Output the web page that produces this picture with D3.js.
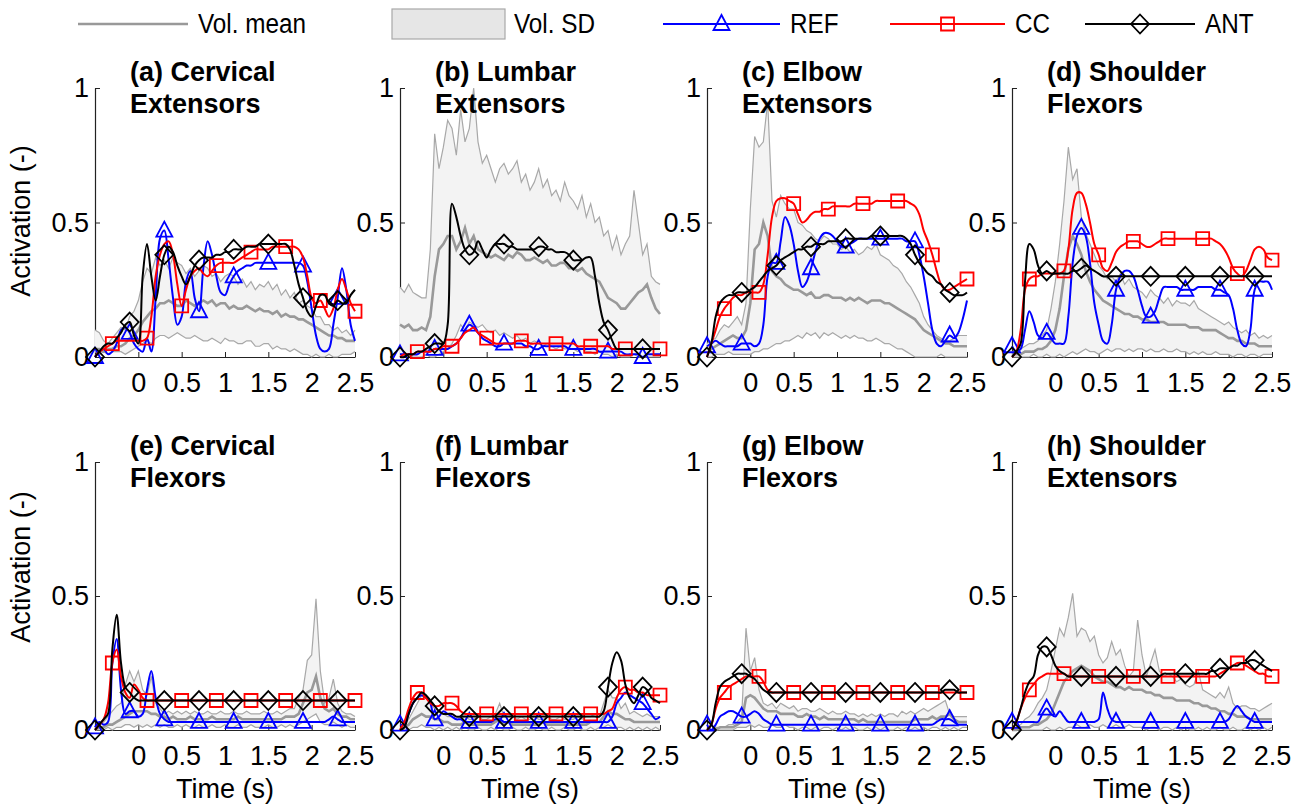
<!DOCTYPE html>
<html>
<head>
<meta charset="utf-8">
<script src="https://cdn.jsdelivr.net/npm/d3@7"></script>
<style>
  body { margin: 0; background: #fff; }
  svg text { font-family: Arial, "Liberation Sans", sans-serif; }
</style>
</head>
<body>
<svg id="chart" width="1301" height="805"></svg>
<script>
// sampling grid shared by every trace: -0.5 s .. 2.5 s, every 0.05 s (61 samples)
const time = d3.range(61).map(i => +(-0.5 + i * 0.05).toFixed(2));
const xTicks = [0, 0.5, 1, 1.5, 2, 2.5];
const yTicks = [0, 0.5, 1];

// (a) Cervical Extensors
const aUpper = [0.10,0.09,0.06,0.05,0.07,0.09,0.11,0.10,0.15,0.17, 0.21,0.28,0.33,0.31,0.37,0.34,0.36,0.33,0.37,0.35, 0.34,0.31,0.33,0.30,0.32,0.34,0.33,0.30,0.31,0.28, 0.30,0.31,0.30,0.27,0.29,0.26,0.28,0.25,0.27,0.26, 0.28,0.25,0.27,0.23,0.25,0.22,0.24,0.20,0.21,0.19, 0.18,0.15,0.15,0.12,0.12,0.10,0.11,0.09,0.10,0.08, 0.10];
const aMean  = [0.03,0.03,0.02,0.03,0.03,0.04,0.04,0.05,0.07,0.08, 0.10,0.13,0.15,0.17,0.18,0.20,0.20,0.21,0.20,0.19, 0.19,0.21,0.20,0.19,0.20,0.21,0.20,0.21,0.19,0.20, 0.20,0.18,0.19,0.18,0.18,0.19,0.18,0.17,0.18,0.17, 0.17,0.16,0.17,0.15,0.16,0.15,0.15,0.14,0.14,0.13, 0.12,0.11,0.10,0.09,0.08,0.08,0.07,0.07,0.06,0.06, 0.06];
const aLower = [0.02,0.01,0.02,0.01,0.02,0.02,0.02,0.01,0.02,0.03, 0.04,0.05,0.06,0.05,0.07,0.08,0.08,0.07,0.08,0.09, 0.08,0.07,0.07,0.08,0.07,0.06,0.06,0.07,0.06,0.05, 0.07,0.06,0.06,0.05,0.05,0.06,0.06,0.04,0.04,0.05, 0.05,0.03,0.04,0.03,0.03,0.02,0.03,0.02,0.01,0.01, 0.00,0.01,0.00,0.00,0.01,0.00,0.00,0.01,0.01,0.01, 0.02];
const aRef   = [0.00,0.02,0.03,0.01,0.02,0.05,0.10,0.11,0.09,0.05, 0.03,0.02,0.07,0.02,0.22,0.44,0.47,0.36,0.22,0.12, 0.15,0.28,0.32,0.22,0.17,0.33,0.43,0.38,0.30,0.24, 0.23,0.27,0.30,0.32,0.33,0.34,0.34,0.35,0.35,0.35, 0.35,0.35,0.35,0.35,0.35,0.35,0.35,0.35,0.34,0.28, 0.18,0.08,0.03,0.02,0.03,0.12,0.22,0.33,0.25,0.12, 0.06];
const aCc    = [0.00,0.02,0.03,0.04,0.05,0.06,0.06,0.06,0.06,0.06, 0.06,0.06,0.07,0.15,0.30,0.38,0.42,0.43,0.38,0.27, 0.19,0.25,0.30,0.32,0.33,0.31,0.30,0.32,0.34,0.35, 0.35,0.35,0.35,0.36,0.37,0.38,0.39,0.40,0.40,0.40, 0.40,0.41,0.41,0.41,0.41,0.41,0.41,0.40,0.37,0.30, 0.22,0.20,0.21,0.18,0.15,0.18,0.25,0.29,0.25,0.20, 0.17];
const aAnt   = [0.00,0.02,0.04,0.05,0.05,0.07,0.09,0.12,0.13,0.08, 0.05,0.30,0.42,0.30,0.21,0.30,0.38,0.41,0.39,0.34, 0.30,0.27,0.30,0.34,0.36,0.37,0.37,0.37,0.38,0.38, 0.39,0.39,0.40,0.40,0.40,0.41,0.41,0.41,0.42,0.42, 0.42,0.42,0.42,0.42,0.42,0.40,0.34,0.27,0.22,0.17, 0.15,0.19,0.23,0.23,0.20,0.19,0.21,0.20,0.20,0.23, 0.25];

// (b) Lumbar Extensors
const bUpper = [0.26,0.24,0.27,0.24,0.23,0.22,0.22,0.40,0.83,0.70, 0.78,0.88,0.85,0.75,0.92,0.80,0.85,1.00,0.80,0.72, 0.75,0.70,0.65,0.70,0.72,0.68,0.70,0.73,0.65,0.68, 0.62,0.65,0.70,0.63,0.66,0.60,0.62,0.58,0.65,0.60, 0.58,0.55,0.60,0.52,0.57,0.50,0.52,0.45,0.47,0.40, 0.45,0.38,0.42,0.45,0.62,0.50,0.38,0.42,0.30,0.28, 0.27];
const bMean  = [0.12,0.11,0.12,0.10,0.10,0.11,0.10,0.15,0.30,0.40, 0.42,0.45,0.45,0.40,0.43,0.48,0.42,0.45,0.40,0.39, 0.38,0.37,0.38,0.37,0.36,0.38,0.37,0.39,0.38,0.36, 0.36,0.37,0.36,0.35,0.36,0.34,0.34,0.35,0.35,0.33, 0.33,0.32,0.33,0.31,0.30,0.29,0.28,0.25,0.22,0.21, 0.20,0.18,0.18,0.20,0.22,0.24,0.25,0.27,0.22,0.18, 0.16];
const bLower = [0.00,0.00,0.01,0.00,0.00,0.00,0.01,0.00,0.00,0.01, 0.02,0.03,0.05,0.08,0.12,0.10,0.13,0.12,0.11,0.12, 0.10,0.09,0.10,0.08,0.09,0.08,0.07,0.08,0.06,0.07, 0.05,0.06,0.05,0.04,0.05,0.04,0.03,0.04,0.03,0.03, 0.03,0.02,0.03,0.02,0.02,0.01,0.02,0.01,0.01,0.00, 0.01,0.00,0.00,0.00,0.01,0.00,0.00,0.00,0.00,0.00, 0.00];
const bRef   = [0.01,0.01,0.01,0.01,0.01,0.02,0.02,0.02,0.03,0.03, 0.03,0.03,0.04,0.05,0.07,0.10,0.12,0.11,0.09,0.07, 0.06,0.05,0.04,0.04,0.05,0.05,0.05,0.05,0.05,0.04, 0.04,0.03,0.03,0.04,0.04,0.04,0.04,0.04,0.04,0.03, 0.03,0.03,0.03,0.03,0.03,0.03,0.02,0.02,0.02,0.02, 0.02,0.02,0.01,0.01,0.01,0.01,0.00,0.01,0.01,0.01, 0.01];
const bCc    = [0.00,0.01,0.01,0.01,0.02,0.02,0.02,0.02,0.03,0.03, 0.04,0.04,0.04,0.05,0.07,0.09,0.10,0.11,0.09,0.08, 0.07,0.06,0.05,0.05,0.05,0.05,0.05,0.06,0.06,0.06, 0.05,0.05,0.05,0.05,0.05,0.05,0.05,0.05,0.05,0.05, 0.05,0.04,0.04,0.04,0.04,0.04,0.04,0.04,0.04,0.03, 0.03,0.03,0.03,0.03,0.03,0.03,0.03,0.03,0.03,0.03, 0.03];
const bAnt   = [0.00,0.00,0.01,0.01,0.02,0.02,0.03,0.04,0.05,0.05, 0.05,0.12,0.57,0.52,0.45,0.40,0.38,0.39,0.43,0.40, 0.37,0.40,0.42,0.42,0.42,0.41,0.41,0.40,0.40,0.40, 0.40,0.40,0.41,0.41,0.40,0.40,0.39,0.39,0.39,0.38, 0.36,0.36,0.36,0.37,0.37,0.30,0.20,0.13,0.10,0.06, 0.03,0.03,0.03,0.03,0.03,0.03,0.03,0.03,0.03,0.03, 0.03];

// (c) Elbow Extensors
const cUpper = [0.05,0.06,0.07,0.10,0.12,0.11,0.13,0.15,0.12,0.20, 0.55,0.82,0.78,0.80,0.95,0.58,0.52,0.60,0.57,0.55, 0.55,0.50,0.49,0.47,0.46,0.44,0.43,0.45,0.44,0.42, 0.42,0.40,0.41,0.39,0.40,0.38,0.39,0.41,0.40,0.42, 0.38,0.37,0.36,0.34,0.33,0.31,0.28,0.26,0.23,0.20, 0.15,0.12,0.10,0.08,0.07,0.06,0.06,0.07,0.08,0.08, 0.08];
const cMean  = [0.03,0.03,0.04,0.05,0.06,0.07,0.08,0.07,0.07,0.10, 0.20,0.40,0.42,0.50,0.45,0.32,0.30,0.29,0.27,0.26, 0.25,0.25,0.24,0.23,0.24,0.22,0.22,0.23,0.23,0.22, 0.22,0.22,0.21,0.22,0.21,0.22,0.21,0.20,0.21,0.21, 0.21,0.20,0.20,0.19,0.18,0.17,0.16,0.15,0.14,0.12, 0.10,0.09,0.08,0.07,0.06,0.05,0.05,0.04,0.04,0.04, 0.04];
const cLower = [0.00,0.00,0.01,0.01,0.01,0.02,0.01,0.01,0.01,0.01, 0.01,0.02,0.02,0.03,0.03,0.04,0.05,0.05,0.06,0.06, 0.07,0.08,0.07,0.09,0.08,0.09,0.07,0.09,0.08,0.09, 0.08,0.07,0.08,0.07,0.08,0.07,0.07,0.06,0.06,0.07, 0.06,0.05,0.05,0.04,0.03,0.03,0.02,0.01,0.00,0.00, 0.00,0.00,0.00,0.00,0.01,0.00,0.00,0.00,0.00,0.00, 0.00];
const cRef   = [0.04,0.05,0.06,0.05,0.04,0.04,0.04,0.04,0.05,0.05, 0.05,0.04,0.05,0.12,0.30,0.35,0.35,0.43,0.52,0.49, 0.42,0.32,0.26,0.28,0.33,0.39,0.44,0.46,0.46,0.45, 0.43,0.41,0.41,0.42,0.43,0.44,0.44,0.44,0.44,0.44, 0.44,0.44,0.44,0.44,0.44,0.44,0.43,0.43,0.43,0.38, 0.30,0.20,0.10,0.05,0.04,0.06,0.08,0.07,0.09,0.14, 0.21];
const cCc    = [0.00,0.05,0.10,0.15,0.18,0.20,0.22,0.23,0.23,0.24, 0.24,0.24,0.24,0.27,0.38,0.52,0.58,0.59,0.59,0.58, 0.57,0.53,0.50,0.51,0.53,0.54,0.54,0.55,0.55,0.56, 0.56,0.56,0.56,0.56,0.57,0.57,0.57,0.57,0.57,0.58, 0.58,0.58,0.58,0.58,0.58,0.58,0.58,0.57,0.56,0.53, 0.47,0.43,0.38,0.32,0.27,0.25,0.25,0.26,0.27,0.28, 0.29];
const cAnt   = [0.00,0.05,0.15,0.20,0.22,0.23,0.23,0.24,0.24,0.24, 0.25,0.26,0.28,0.30,0.32,0.33,0.34,0.36,0.37,0.38, 0.39,0.40,0.40,0.41,0.41,0.42,0.42,0.42,0.43,0.43, 0.43,0.43,0.44,0.44,0.44,0.44,0.44,0.44,0.45,0.45, 0.45,0.45,0.45,0.45,0.45,0.45,0.44,0.42,0.38,0.35, 0.33,0.31,0.30,0.28,0.27,0.25,0.24,0.23,0.23,0.23, 0.24];

// (d) Shoulder Flexors
const dUpper = [0.02,0.02,0.03,0.04,0.05,0.05,0.06,0.08,0.10,0.18, 0.28,0.42,0.58,0.78,0.66,0.70,0.52,0.46,0.42,0.38, 0.34,0.32,0.29,0.30,0.28,0.31,0.27,0.29,0.26,0.25, 0.24,0.22,0.25,0.23,0.22,0.20,0.22,0.19,0.21,0.20, 0.20,0.19,0.21,0.18,0.17,0.16,0.15,0.14,0.13,0.12, 0.13,0.11,0.10,0.09,0.10,0.08,0.09,0.07,0.08,0.07, 0.08];
const dMean  = [0.01,0.01,0.01,0.02,0.02,0.02,0.03,0.03,0.04,0.06, 0.10,0.18,0.30,0.40,0.45,0.42,0.38,0.32,0.28,0.25, 0.23,0.21,0.20,0.19,0.18,0.17,0.16,0.16,0.15,0.15, 0.14,0.14,0.13,0.13,0.13,0.13,0.12,0.12,0.12,0.12, 0.12,0.11,0.11,0.11,0.10,0.10,0.10,0.10,0.09,0.08, 0.07,0.07,0.06,0.06,0.05,0.05,0.05,0.04,0.04,0.04, 0.04];
const dLower = [0.00,0.00,0.00,0.00,0.00,0.01,0.00,0.00,0.01,0.00, 0.00,0.01,0.00,0.01,0.02,0.01,0.02,0.03,0.02,0.02, 0.01,0.02,0.03,0.02,0.03,0.03,0.02,0.03,0.02,0.03, 0.03,0.02,0.03,0.02,0.02,0.03,0.02,0.02,0.03,0.02, 0.02,0.01,0.02,0.01,0.02,0.01,0.01,0.02,0.01,0.01, 0.01,0.00,0.01,0.01,0.00,0.01,0.01,0.00,0.01,0.01, 0.01];
const dRef   = [0.04,0.02,0.03,0.10,0.17,0.13,0.08,0.07,0.09,0.07, 0.05,0.05,0.05,0.15,0.35,0.45,0.48,0.45,0.35,0.20, 0.12,0.06,0.05,0.12,0.25,0.30,0.32,0.32,0.30,0.25, 0.19,0.15,0.15,0.17,0.22,0.26,0.26,0.26,0.26,0.25, 0.25,0.25,0.25,0.26,0.26,0.26,0.26,0.25,0.25,0.24, 0.23,0.18,0.10,0.05,0.04,0.10,0.25,0.28,0.28,0.28, 0.25];
const dCc    = [0.00,0.02,0.10,0.25,0.29,0.30,0.30,0.31,0.31,0.31, 0.31,0.31,0.32,0.40,0.55,0.61,0.61,0.57,0.50,0.42, 0.38,0.33,0.32,0.35,0.39,0.41,0.42,0.43,0.43,0.43, 0.42,0.41,0.41,0.42,0.43,0.44,0.44,0.44,0.44,0.44, 0.44,0.44,0.44,0.44,0.44,0.44,0.44,0.43,0.42,0.40, 0.37,0.33,0.31,0.30,0.32,0.36,0.40,0.41,0.40,0.37, 0.36];
const dAnt   = [0.00,0.02,0.05,0.28,0.42,0.40,0.34,0.31,0.32,0.31, 0.31,0.31,0.31,0.31,0.32,0.32,0.33,0.34,0.33,0.32, 0.31,0.30,0.30,0.30,0.30,0.30,0.30,0.30,0.30,0.30, 0.30,0.30,0.30,0.30,0.30,0.30,0.30,0.30,0.30,0.30, 0.30,0.30,0.30,0.30,0.30,0.30,0.30,0.30,0.30,0.30, 0.30,0.30,0.30,0.30,0.30,0.30,0.30,0.30,0.30,0.30, 0.30];

// (e) Cervical Flexors
const eUpper = [0.01,0.02,0.03,0.05,0.07,0.09,0.10,0.17,0.22,0.18, 0.22,0.15,0.13,0.20,0.10,0.08,0.06,0.07,0.06,0.07, 0.06,0.07,0.06,0.07,0.06,0.06,0.07,0.06,0.06,0.07, 0.06,0.06,0.07,0.06,0.06,0.07,0.06,0.06,0.06,0.07, 0.06,0.06,0.07,0.06,0.07,0.08,0.08,0.12,0.15,0.26, 0.28,0.49,0.22,0.10,0.12,0.19,0.10,0.07,0.06,0.06, 0.05];
const eMean  = [0.00,0.01,0.01,0.02,0.02,0.03,0.04,0.05,0.06,0.07, 0.07,0.07,0.07,0.06,0.06,0.05,0.05,0.04,0.05,0.04, 0.04,0.04,0.05,0.04,0.04,0.04,0.04,0.05,0.04,0.04, 0.04,0.04,0.04,0.05,0.04,0.04,0.04,0.04,0.04,0.04, 0.04,0.04,0.04,0.04,0.05,0.05,0.05,0.06,0.10,0.14, 0.15,0.20,0.12,0.08,0.07,0.08,0.06,0.05,0.05,0.04, 0.04];
const eLower = [0.00,0.00,0.00,0.01,0.00,0.01,0.01,0.02,0.02,0.01, 0.02,0.01,0.02,0.01,0.02,0.01,0.02,0.01,0.01,0.02, 0.01,0.02,0.01,0.01,0.02,0.01,0.01,0.02,0.01,0.01, 0.02,0.01,0.01,0.02,0.01,0.01,0.02,0.01,0.01,0.01, 0.02,0.01,0.01,0.02,0.01,0.02,0.01,0.02,0.03,0.04, 0.05,0.06,0.03,0.02,0.02,0.03,0.02,0.01,0.02,0.01, 0.01];
const eRef   = [0.01,0.03,0.02,0.03,0.25,0.34,0.15,0.06,0.07,0.07, 0.05,0.06,0.15,0.22,0.12,0.06,0.04,0.03,0.03,0.03, 0.03,0.03,0.03,0.03,0.03,0.03,0.03,0.03,0.03,0.03, 0.03,0.03,0.03,0.03,0.03,0.03,0.03,0.03,0.03,0.03, 0.03,0.03,0.03,0.03,0.03,0.03,0.03,0.03,0.03,0.03, 0.03,0.03,0.03,0.03,0.04,0.05,0.04,0.03,0.03,0.03, 0.03];
const eCc    = [0.00,0.02,0.04,0.10,0.25,0.30,0.20,0.14,0.12,0.17, 0.15,0.12,0.11,0.11,0.11,0.11,0.11,0.11,0.11,0.11, 0.11,0.11,0.11,0.11,0.11,0.11,0.11,0.11,0.11,0.11, 0.11,0.11,0.11,0.11,0.11,0.11,0.11,0.11,0.11,0.11, 0.11,0.11,0.11,0.11,0.11,0.11,0.11,0.11,0.11,0.11, 0.11,0.11,0.11,0.11,0.11,0.11,0.11,0.11,0.11,0.11, 0.11];
const eAnt   = [0.00,0.02,0.04,0.06,0.30,0.43,0.25,0.16,0.14,0.12, 0.11,0.11,0.11,0.11,0.11,0.11,0.11,0.11,0.11,0.11, 0.11,0.11,0.11,0.11,0.11,0.11,0.11,0.11,0.11,0.11, 0.11,0.11,0.11,0.11,0.11,0.11,0.11,0.11,0.11,0.11, 0.11,0.11,0.11,0.11,0.11,0.11,0.11,0.11,0.11,0.11, 0.11,0.11,0.11,0.11,0.11,0.11,0.11,0.11,0.11,0.11, 0.11];

// (f) Lumbar Flexors
const fUpper = [0.00,0.02,0.04,0.07,0.10,0.13,0.12,0.10,0.08,0.07, 0.06,0.05,0.05,0.04,0.04,0.05,0.04,0.04,0.05,0.04, 0.04,0.05,0.06,0.10,0.05,0.06,0.05,0.04,0.05,0.04, 0.04,0.05,0.04,0.04,0.05,0.04,0.04,0.05,0.04,0.04, 0.04,0.05,0.04,0.05,0.05,0.06,0.05,0.10,0.15,0.12, 0.12,0.08,0.10,0.06,0.07,0.06,0.05,0.06,0.05,0.05, 0.05];
const fMean  = [0.00,0.01,0.02,0.04,0.05,0.06,0.05,0.05,0.04,0.04, 0.03,0.03,0.02,0.02,0.02,0.03,0.02,0.02,0.02,0.02, 0.02,0.02,0.03,0.04,0.02,0.03,0.02,0.02,0.02,0.02, 0.02,0.02,0.02,0.03,0.02,0.02,0.02,0.02,0.02,0.02, 0.02,0.02,0.02,0.02,0.03,0.03,0.03,0.05,0.07,0.06, 0.06,0.05,0.04,0.04,0.03,0.03,0.03,0.03,0.03,0.03, 0.03];
const fLower = [0.00,0.00,0.00,0.01,0.01,0.02,0.01,0.01,0.00,0.01, 0.00,0.01,0.00,0.01,0.00,0.01,0.00,0.00,0.01,0.00, 0.00,0.01,0.00,0.01,0.00,0.00,0.01,0.00,0.00,0.01, 0.00,0.00,0.01,0.00,0.00,0.01,0.00,0.00,0.01,0.00, 0.00,0.01,0.00,0.00,0.01,0.00,0.01,0.01,0.02,0.01, 0.01,0.01,0.00,0.01,0.00,0.01,0.00,0.01,0.00,0.01, 0.00];
const fRef   = [0.02,0.02,0.06,0.10,0.12,0.13,0.12,0.10,0.04,0.05, 0.07,0.06,0.05,0.04,0.04,0.03,0.03,0.03,0.03,0.03, 0.03,0.03,0.04,0.04,0.03,0.03,0.03,0.03,0.03,0.03, 0.03,0.03,0.03,0.03,0.03,0.03,0.03,0.03,0.03,0.03, 0.03,0.03,0.03,0.03,0.03,0.03,0.03,0.03,0.03,0.05, 0.10,0.12,0.14,0.13,0.12,0.11,0.10,0.08,0.06,0.04, 0.05];
const fCc    = [0.00,0.03,0.08,0.12,0.14,0.14,0.12,0.10,0.09,0.09, 0.10,0.10,0.10,0.09,0.07,0.06,0.06,0.06,0.06,0.06, 0.06,0.06,0.06,0.06,0.06,0.06,0.06,0.06,0.06,0.06, 0.06,0.06,0.06,0.06,0.06,0.06,0.06,0.06,0.06,0.06, 0.06,0.06,0.06,0.06,0.06,0.06,0.06,0.06,0.07,0.08, 0.12,0.15,0.16,0.15,0.15,0.14,0.14,0.13,0.13,0.13, 0.13];
const fAnt   = [0.00,0.01,0.06,0.10,0.12,0.14,0.13,0.11,0.09,0.07, 0.06,0.06,0.06,0.05,0.05,0.05,0.05,0.05,0.05,0.05, 0.05,0.05,0.05,0.05,0.05,0.05,0.05,0.05,0.05,0.05, 0.05,0.05,0.05,0.05,0.05,0.05,0.05,0.05,0.05,0.05, 0.05,0.05,0.05,0.05,0.05,0.05,0.05,0.07,0.16,0.25, 0.29,0.26,0.17,0.12,0.10,0.13,0.16,0.15,0.12,0.11, 0.10];

// (g) Elbow Flexors
const gUpper = [0.00,0.00,0.01,0.01,0.01,0.02,0.02,0.03,0.05,0.38, 0.22,0.27,0.15,0.10,0.09,0.10,0.08,0.10,0.09,0.08, 0.09,0.07,0.08,0.08,0.07,0.07,0.08,0.07,0.06,0.07, 0.06,0.06,0.07,0.06,0.06,0.05,0.06,0.05,0.06,0.05, 0.06,0.05,0.06,0.06,0.05,0.07,0.06,0.07,0.06,0.07, 0.08,0.07,0.08,0.09,0.10,0.11,0.06,0.05,0.05,0.05, 0.05];
const gMean  = [0.00,0.00,0.00,0.01,0.01,0.01,0.01,0.02,0.03,0.12, 0.13,0.12,0.10,0.08,0.07,0.07,0.07,0.06,0.06,0.06, 0.06,0.05,0.05,0.06,0.05,0.05,0.04,0.05,0.04,0.04, 0.04,0.04,0.04,0.04,0.04,0.03,0.04,0.03,0.03,0.03, 0.03,0.03,0.03,0.03,0.03,0.03,0.03,0.03,0.04,0.04, 0.04,0.04,0.05,0.04,0.05,0.05,0.06,0.04,0.03,0.03, 0.03];
const gLower = [0.00,0.00,0.00,0.00,0.00,0.00,0.00,0.01,0.01,0.01, 0.02,0.01,0.02,0.01,0.01,0.02,0.01,0.01,0.02,0.01, 0.01,0.00,0.01,0.01,0.00,0.01,0.00,0.01,0.01,0.00, 0.01,0.00,0.01,0.00,0.01,0.00,0.00,0.01,0.00,0.01, 0.00,0.01,0.00,0.00,0.01,0.00,0.01,0.00,0.01,0.00, 0.01,0.00,0.01,0.01,0.00,0.01,0.00,0.01,0.00,0.01, 0.01];
const gRef   = [0.02,0.00,0.02,0.05,0.06,0.07,0.07,0.06,0.05,0.05, 0.06,0.07,0.06,0.04,0.03,0.02,0.02,0.02,0.02,0.02, 0.02,0.02,0.02,0.02,0.02,0.02,0.02,0.02,0.02,0.02, 0.02,0.02,0.02,0.02,0.02,0.02,0.02,0.02,0.02,0.02, 0.02,0.02,0.02,0.02,0.02,0.02,0.02,0.02,0.02,0.02, 0.02,0.02,0.02,0.03,0.04,0.04,0.04,0.03,0.02,0.02, 0.02];
const gCc    = [0.00,0.02,0.08,0.12,0.14,0.16,0.17,0.18,0.19,0.20, 0.20,0.20,0.20,0.18,0.15,0.14,0.14,0.14,0.14,0.14, 0.14,0.14,0.14,0.14,0.14,0.14,0.14,0.14,0.14,0.14, 0.14,0.14,0.14,0.14,0.14,0.14,0.14,0.14,0.14,0.14, 0.14,0.14,0.14,0.14,0.14,0.14,0.14,0.14,0.14,0.14, 0.14,0.14,0.14,0.14,0.14,0.14,0.14,0.14,0.14,0.14, 0.14];
const gAnt   = [0.00,0.02,0.10,0.16,0.18,0.19,0.20,0.21,0.21,0.21, 0.20,0.19,0.17,0.15,0.14,0.14,0.14,0.14,0.14,0.14, 0.14,0.14,0.14,0.14,0.14,0.14,0.14,0.14,0.14,0.14, 0.14,0.14,0.14,0.14,0.14,0.14,0.14,0.14,0.14,0.14, 0.14,0.14,0.14,0.14,0.14,0.14,0.14,0.14,0.14,0.14, 0.14,0.14,0.14,0.14,0.14,0.15,0.15,0.15,0.14,0.14, 0.14];

// (h) Shoulder Extensors
const hUpper = [0.00,0.01,0.02,0.04,0.05,0.07,0.10,0.12,0.15,0.22, 0.30,0.38,0.35,0.42,0.51,0.35,0.38,0.37,0.33,0.35, 0.28,0.25,0.27,0.33,0.28,0.30,0.24,0.20,0.22,0.41, 0.28,0.20,0.25,0.30,0.22,0.20,0.21,0.20,0.18,0.19, 0.17,0.16,0.17,0.22,0.15,0.14,0.13,0.12,0.14,0.12, 0.16,0.10,0.08,0.09,0.09,0.08,0.08,0.07,0.08,0.09, 0.10];
const hMean  = [0.00,0.00,0.01,0.01,0.01,0.02,0.02,0.03,0.04,0.06, 0.10,0.14,0.18,0.20,0.22,0.23,0.24,0.23,0.22,0.20, 0.19,0.18,0.18,0.17,0.16,0.16,0.15,0.16,0.15,0.15, 0.15,0.14,0.14,0.13,0.13,0.12,0.12,0.12,0.11,0.11, 0.11,0.11,0.10,0.10,0.09,0.09,0.08,0.08,0.07,0.07, 0.06,0.06,0.05,0.05,0.05,0.04,0.04,0.04,0.04,0.04, 0.04];
const hLower = [0.00,0.00,0.00,0.00,0.00,0.00,0.00,0.00,0.01,0.00, 0.00,0.01,0.00,0.01,0.01,0.02,0.01,0.01,0.02,0.01, 0.01,0.02,0.01,0.01,0.02,0.01,0.01,0.02,0.01,0.01, 0.01,0.00,0.01,0.01,0.00,0.01,0.01,0.00,0.01,0.00, 0.01,0.00,0.00,0.01,0.00,0.01,0.00,0.00,0.01,0.00, 0.00,0.01,0.00,0.00,0.01,0.00,0.01,0.00,0.01,0.00, 0.01];
const hRef   = [0.03,0.03,0.03,0.03,0.03,0.03,0.03,0.06,0.08,0.06, 0.05,0.07,0.05,0.03,0.03,0.03,0.03,0.03,0.03,0.03, 0.04,0.14,0.08,0.04,0.03,0.03,0.03,0.03,0.03,0.03, 0.03,0.03,0.03,0.03,0.03,0.03,0.03,0.03,0.03,0.03, 0.03,0.03,0.03,0.03,0.03,0.03,0.03,0.03,0.03,0.03, 0.04,0.07,0.09,0.07,0.05,0.04,0.03,0.03,0.03,0.03, 0.03];
const hCc    = [0.00,0.03,0.08,0.12,0.15,0.17,0.19,0.20,0.21,0.21, 0.21,0.21,0.21,0.20,0.20,0.20,0.20,0.20,0.20,0.20, 0.20,0.20,0.20,0.20,0.20,0.20,0.20,0.20,0.20,0.20, 0.20,0.20,0.20,0.20,0.20,0.20,0.20,0.20,0.20,0.20, 0.20,0.20,0.20,0.20,0.20,0.20,0.20,0.20,0.21,0.22, 0.23,0.24,0.25,0.25,0.24,0.23,0.22,0.21,0.21,0.20, 0.20];
const hAnt   = [0.00,0.03,0.08,0.14,0.18,0.20,0.28,0.31,0.31,0.28, 0.24,0.22,0.21,0.20,0.20,0.20,0.20,0.20,0.20,0.20, 0.20,0.20,0.20,0.20,0.20,0.20,0.20,0.20,0.20,0.20, 0.20,0.20,0.20,0.20,0.20,0.21,0.21,0.21,0.21,0.21, 0.21,0.21,0.21,0.21,0.21,0.21,0.22,0.22,0.23,0.23, 0.23,0.24,0.24,0.25,0.25,0.26,0.26,0.25,0.24,0.23, 0.22];

const panels = [
  { title: ['(a) Cervical', 'Extensors'], upper: aUpper, mean: aMean, lower: aLower, ref: aRef, cc: aCc, ant: aAnt },
  { title: ['(b) Lumbar', 'Extensors'],   upper: bUpper, mean: bMean, lower: bLower, ref: bRef, cc: bCc, ant: bAnt },
  { title: ['(c) Elbow', 'Extensors'],    upper: cUpper, mean: cMean, lower: cLower, ref: cRef, cc: cCc, ant: cAnt },
  { title: ['(d) Shoulder', 'Flexors'],   upper: dUpper, mean: dMean, lower: dLower, ref: dRef, cc: dCc, ant: dAnt },
  { title: ['(e) Cervical', 'Flexors'],   upper: eUpper, mean: eMean, lower: eLower, ref: eRef, cc: eCc, ant: eAnt },
  { title: ['(f) Lumbar', 'Flexors'],     upper: fUpper, mean: fMean, lower: fLower, ref: fRef, cc: fCc, ant: fAnt },
  { title: ['(g) Elbow', 'Flexors'],      upper: gUpper, mean: gMean, lower: gLower, ref: gRef, cc: gCc, ant: gAnt },
  { title: ['(h) Shoulder', 'Extensors'], upper: hUpper, mean: hMean, lower: hLower, ref: hRef, cc: hCc, ant: hAnt }
];

const series = [
  { key: 'ref', name: 'REF', color: '#0000ff', shape: 'tri', first: 0 },
  { key: 'cc',  name: 'CC',  color: '#ff0000', shape: 'sq',  first: 4 },
  { key: 'ant', name: 'ANT', color: '#000000', shape: 'dia', first: 0 }
];

// layout
const colX = [95, 400, 707, 1012];
const plotW = 260;
const rows = [
  { top: 88, bottom: 357, labelY: 221 },
  { top: 462, bottom: 730, labelY: 567 }
];
const fontSize = 27;
const bandFill = '#f3f3f3';
const sdLine = '#a8a8a8';
const meanLine = '#999999';

const svg = d3.select('#chart');

function shapePath(shape) {
  if (shape === 'tri') return 'M0,-9L8,6L-8,6Z';
  if (shape === 'sq') return 'M-6.5,-6.5H6.5V6.5H-6.5Z';
  return 'M0,-9.5L9,0L0,9.5L-9,0Z';
}

panels.forEach((p, i) => {
  const row = rows[Math.floor(i / 4)];
  const x0 = colX[i % 4];

  const x = d3.scaleLinear().domain([-0.5, 2.5]).range([x0, x0 + plotW]);
  const y = d3.scaleLinear().domain([0, 1]).range([row.bottom, row.top]);

  const g = svg.append('g');

  // axes
  const xAxis = g.append('g')
    .attr('transform', `translate(0,${row.bottom})`)
    .call(d3.axisBottom(x).tickValues(xTicks).tickSizeInner(-5).tickSizeOuter(0)
      .tickPadding(16).tickFormat(d => String(d)));

  const yAxis = g.append('g')
    .attr('transform', `translate(${x0},0)`)
    .call(d3.axisLeft(y).tickValues(yTicks).tickSizeInner(-5).tickSizeOuter(0)
      .tickPadding(6).tickFormat(d => String(d)));

  [xAxis, yAxis].forEach(ax => {
    ax.select('.domain').attr('stroke', '#222').attr('stroke-width', 1.2);
    ax.selectAll('.tick line').attr('stroke', '#222');
    ax.selectAll('text').attr('font-size', fontSize).attr('fill', '#000')
      .attr('font-family', 'Arial, "Liberation Sans", sans-serif');
  });

  // volunteer SD band and mean
  const area = d3.area()
    .x((d, k) => x(time[k]))
    .y0((d, k) => y(p.lower[k]))
    .y1(d => y(d));

  g.append('path').datum(p.upper).attr('d', area).attr('fill', bandFill);

  const gline = d3.line().x((d, k) => x(time[k])).y(d => y(d));
  [p.upper, p.lower].forEach(arr => {
    g.append('path').datum(arr).attr('d', gline)
      .attr('fill', 'none').attr('stroke', sdLine).attr('stroke-width', 1.2);
  });
  g.append('path').datum(p.mean).attr('d', gline)
    .attr('fill', 'none').attr('stroke', meanLine).attr('stroke-width', 2.6);

  // model traces
  const smooth = d3.line()
    .x((d, k) => x(time[k]))
    .y(d => y(d))
    .curve(d3.curveCatmullRom.alpha(0.5));

  series.forEach(s => {
    const vals = p[s.key];
    g.append('path').datum(vals).attr('d', smooth)
      .attr('fill', 'none').attr('stroke', s.color).attr('stroke-width', 2);

    const marks = vals.map((v, k) => ({ t: time[k], v, k }))
      .filter(d => d.k >= s.first && (d.k - s.first) % 8 === 0);

    g.selectAll(null).data(marks).enter().append('path')
      .attr('transform', d => `translate(${x(d.t)},${y(d.v)})`)
      .attr('d', shapePath(s.shape))
      .attr('fill', 'none')
      .attr('stroke', s.color)
      .attr('stroke-width', 1.8);
  });

  // title
  const title = g.append('text')
    .attr('font-size', fontSize).attr('font-weight', 'bold').attr('fill', '#000');
  title.append('tspan').attr('x', x0 + 35).attr('y', row.top - 7).text(p.title[0]);
  title.append('tspan').attr('x', x0 + 35).attr('y', row.top + 25).text(p.title[1]);

  // axis labels
  if (i % 4 === 0) {
    svg.append('text')
      .attr('transform', `translate(30,${row.labelY}) rotate(-90)`)
      .attr('text-anchor', 'middle')
      .attr('font-size', fontSize)
      .text('Activation (-)');
  }
  if (i >= 4) {
    svg.append('text')
      .attr('x', x0 + plotW / 2)
      .attr('y', 798)
      .attr('text-anchor', 'middle')
      .attr('font-size', fontSize)
      .text('Time (s)');
  }
});

// legend (text is a little narrower than the axis text in the original)
const leg = svg.append('g');
const legY = 24;
const legText = (xPos, str) => leg.append('text')
  .attr('transform', `translate(${xPos},${legY + 9}) scale(0.9,1)`)
  .attr('font-size', fontSize).text(str);

leg.append('line').attr('x1', 78).attr('x2', 188).attr('y1', legY).attr('y2', legY)
  .attr('stroke', meanLine).attr('stroke-width', 2.6);
legText(198, 'Vol. mean');

leg.append('rect').attr('x', 392).attr('y', 9).attr('width', 113).attr('height', 30)
  .attr('fill', '#e6e6e6').attr('stroke', sdLine).attr('stroke-width', 1.2);
legText(514, 'Vol. SD');

const legPos = [
  { x1: 663, x2: 780, tx: 790 },
  { x1: 890, x2: 1005, tx: 1015 },
  { x1: 1085, x2: 1195, tx: 1205 }
];
series.forEach((s, k) => {
  const lp = legPos[k];
  leg.append('line').attr('x1', lp.x1).attr('x2', lp.x2).attr('y1', legY).attr('y2', legY)
    .attr('stroke', s.color).attr('stroke-width', 2);
  leg.append('path').attr('transform', `translate(${(lp.x1 + lp.x2) / 2},${legY})`)
    .attr('d', shapePath(s.shape)).attr('fill', 'none')
    .attr('stroke', s.color).attr('stroke-width', 1.8);
  legText(lp.tx, s.name);
});
</script>
</body>
</html>
